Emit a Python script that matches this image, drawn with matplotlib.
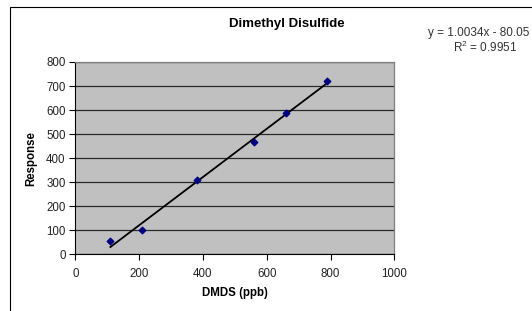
import matplotlib
matplotlib.use("Agg")
import matplotlib.pyplot as plt
from matplotlib.patches import Rectangle
import numpy as np

plt.rcParams['font.family'] = ['Liberation Sans', 'DejaVu Sans']

dmds_ppb = [110, 210, 380, 560, 660, 790]
response = [55, 101, 308, 468, 586, 721]
slope = 1.0034
intercept = -80.05
r2 = 0.9951
x_ticks = [0, 200, 400, 600, 800, 1000]
y_ticks = [0, 100, 200, 300, 400, 500, 600, 700, 800]

fig = plt.figure(figsize=(5.32, 3.11), dpi=100)
fig.patch.set_facecolor('white')
# outer chart border
fig.patches.append(Rectangle((10/532, -0.1), 1.2, (311-7)/311 + 0.1,
                             transform=fig.transFigure, fill=False,
                             edgecolor='#000000', linewidth=0.8))

ax = fig.add_axes([75.3/532, (311-254.3)/311, 319/532, 192.3/311])
ax.set_facecolor('#C0C0C0')
ax.set_xlim(0, 1000)
ax.set_ylim(0, 800)
ax.set_xticks(x_ticks)
ax.set_yticks(y_ticks)
ax.yaxis.grid(True, color='#2a2a2a', linewidth=0.9)
ax.set_axisbelow(True)
for side in ['top', 'right']:
    ax.spines[side].set_color('#808080')
    ax.spines[side].set_linewidth(0.9)
for side in ['left', 'bottom']:
    ax.spines[side].set_color('#000000')
    ax.spines[side].set_linewidth(0.8)
ax.tick_params(direction='out', length=4, width=0.8, labelsize=8.3, colors='#000000', pad=3)
ax.tick_params(axis='x', pad=6)
for lbl in ax.get_xticklabels() + ax.get_yticklabels():
    lbl.set_color('#222222')

xs = np.array([min(dmds_ppb), max(dmds_ppb)])
ax.plot(xs, slope*xs + intercept, color='black', linewidth=1.3, zorder=3)
ax.scatter(dmds_ppb, response, marker='D', s=11, color='#000080', zorder=4)

fig.text(287/532, 1 - 24/311, 'Dimethyl Disulfide', fontsize=9.5, fontweight='bold',
         ha='center', va='center')
ax.set_xlabel('DMDS (ppb)', fontsize=8.3, fontweight='bold', labelpad=5)
ax.set_ylabel('Response', fontsize=8.3, fontweight='bold', labelpad=6)

fig.text(479/532, 1 - 33/311, 'y = 1.0034x - 80.05', fontsize=8.5, ha='center', va='center', color='#333333')
fig.text(485/532, 1 - 47.5/311, '$\\mathregular{R^2}$ = 0.9951', fontsize=8.5, ha='center', va='center', color='#333333')

fig.savefig('out.png', dpi=100)
